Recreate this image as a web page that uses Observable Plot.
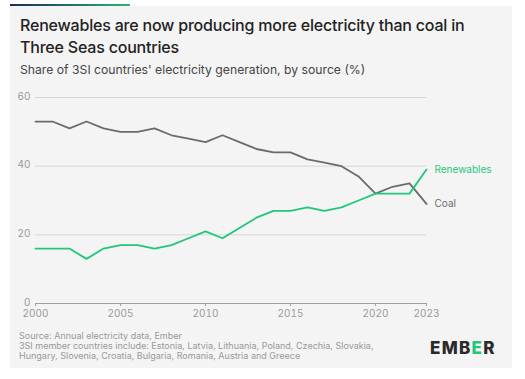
<!DOCTYPE html>
<html><head><meta charset="utf-8">
<script src="https://cdn.jsdelivr.net/npm/d3@7"></script>
<script src="https://cdn.jsdelivr.net/npm/@observablehq/plot@0.6"></script>
<style>
body{margin:0;background:#fff;width:525px;height:379px;overflow:hidden;font-family:Inter,"Noto Sans",sans-serif;}
#bar{position:absolute;left:10px;top:4px;width:120px;height:2px;background:linear-gradient(90deg,#1c2a55,#2bb673);}
#panel{position:absolute;left:10px;top:6px;width:502px;height:362px;background:#f4f4f4;}
#title{position:absolute;left:20px;top:14px;width:480px;font-size:16px;font-weight:500;line-height:22px;color:#222;letter-spacing:-0.2px;}
#sub{position:absolute;left:20px;top:62px;font-size:12.2px;color:#444;}
#chart{position:absolute;left:10px;top:85px;}
#cap{position:absolute;left:19px;top:331px;font-size:9px;line-height:10px;color:#999;}
#logo{position:absolute;left:430px;top:338px;font-size:17px;font-weight:800;color:#2a2a2a;letter-spacing:1.3px;}
</style></head>
<body>
<div id="panel"></div><div id="bar"></div>
<div id="title">Renewables are now producing more electricity than coal in Three Seas countries</div>
<div id="sub">Share of 3SI countries' electricity generation, by source (%)</div>
<div id="chart"></div>
<div id="cap">Source: Annual electricity data, Ember<br>3SI member countries include: Estonia, Latvia, Lithuania, Poland, Czechia, Slovakia,<br>Hungary, Slovenia, Croatia, Bulgaria, Romania, Austria and Greece</div>
<div id="logo">EMB<span style="color:#1fc77a">E</span>R</div>
<script>
const years = [2000,2001,2002,2003,2004,2005,2006,2007,2008,2009,2010,2011,2012,2013,2014,2015,2016,2017,2018,2019,2020,2021,2022,2023];
const coal = [53,53,51,53,51,50,50,51,49,48,47,49,47,45,44,44,42,41,40,37,32,34,35,29];
const renewables = [16,16,16,13,16,17,17,16,17,19,21,19,22,25,27,27,28,27,28,30,32,32,32,39];
const xTicks = [2000,2005,2010,2015,2020,2023];
const yTicks = [0,20,40,60];
const seriesNames = ["Coal","Renewables"];
const colors = ["#6b6b6b","#1fc77a"];

const data = [];
years.forEach((y,i)=>{
  data.push({year:y, value:coal[i], source:"Coal"});
  data.push({year:y, value:renewables[i], source:"Renewables"});
});
const last = data.filter(d=>d.year===years[years.length-1]);

const chart = Plot.plot({
  width:490, height:240,
  marginLeft:25, marginRight:74, marginTop:12, marginBottom:22,
  style:{background:"transparent", fontFamily:"Inter, sans-serif", fontSize:"10px", color:"#9a9a9a"},
  x:{domain:[2000,2023], ticks:xTicks, tickFormat:d=>String(d), label:null},
  y:{domain:[0,60], ticks:yTicks, label:null},
  color:{domain:seriesNames, range:colors},
  marks:[
    Plot.gridY(yTicks.filter(t=>t>0), {stroke:"#d6d6d6", strokeOpacity:1, strokeWidth:1}),
    Plot.ruleY([0], {stroke:"#a0a0a0"}),
    Plot.axisX({ticks:xTicks, tickFormat:d=>String(d), tickSize:3, tickPadding:3, stroke:"#a0a0a0", fill:"#9a9a9a"}),
    Plot.axisY({ticks:yTicks, tickSize:0, tickPadding:5, dy:-1, fill:"#9a9a9a"}),
    Plot.line(data, {x:"year", y:"value", stroke:"source", strokeWidth:1.8, curve:"linear"}),
    Plot.text(last, {x:"year", y:"value", text:"source", fill:"source", dx:8, textAnchor:"start", fontSize:10, fontWeight:d=>d.source==="Renewables"?"600":"400"})
  ]
});
document.getElementById("chart").appendChild(chart);
</script>
</body></html>
